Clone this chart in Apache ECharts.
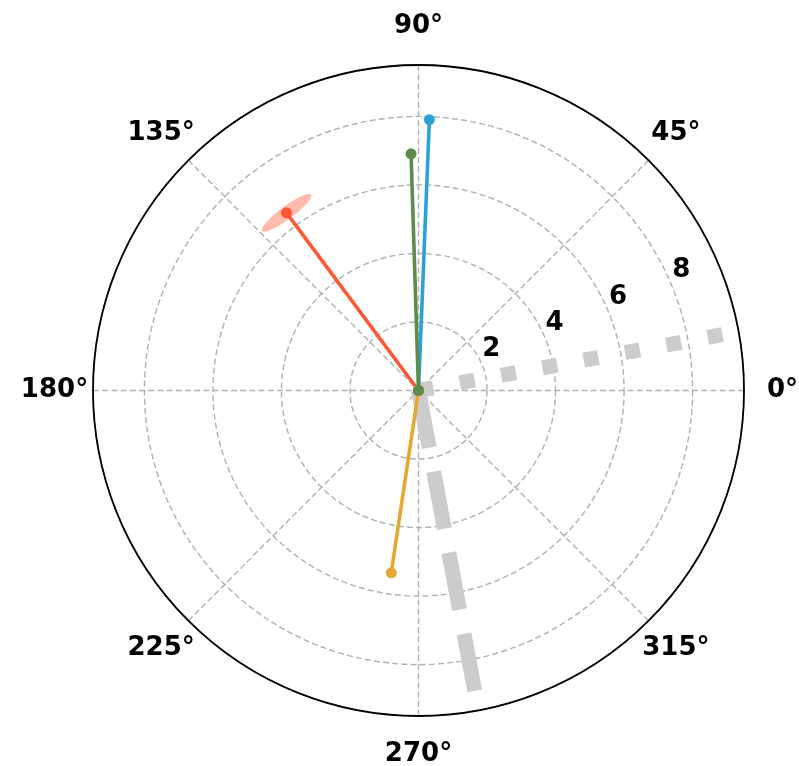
<!DOCTYPE html>
<html><head><meta charset="utf-8">
<script src="https://cdn.jsdelivr.net/npm/echarts@6/dist/echarts.min.js"></script>
<style>html,body{margin:0;padding:0;background:#fff}#c{width:799px;height:766px}</style>
</head><body><div id="c"></div>
<script>
// ---- data ----
const angleTicks = [0, 45, 90, 135, 180, 225, 270, 315];
const angleTickLabels = ['0°', '45°', '90°', '135°', '180°', '225°', '270°', '315°'];
const radialTicks = [2, 4, 6, 8];
const radialTickLabels = ['2', '4', '6', '8'];
const radialLabelAngle = 22.5;
const rMax = 9.5;

const vectorNames = ['blue', 'red', 'orange', 'green'];
const vectorR = [7.91, 6.46, 5.38, 6.91];
const vectorTheta = [87.7, 126.6, 261.5, 91.8];

const refLineTheta = [10.4, 280.6];
const refLineR = [9.5, 9.5];

const errR = 6.46, errTheta = 126.6, errRadialHalf = 0.19, errAngularHalf = 7.9;

// ---- styles ----
const vectorColors = ['#2E9FD8', '#FF5733', '#E5A832', '#5E8B48'];
const FONT = 'DejaVu Sans';
const CX = 418.5, CY = 390.5, RAD = 325.5;
const gridStyle = { color: '#b0b0b0', width: 1.4, type: [6, 3.2] };
const labelStyle = {
  fontFamily: FONT, fontWeight: 'bold', fontSize: 26, color: '#000',
  textBorderWidth: 0, textBorderColor: 'transparent', opacity: 1
};

const series = [];
// gray reference lines
const refStyles = [
  { color: '#cccccc', width: 15, type: [15, 27], cap: 'butt' },
  { color: '#cccccc', width: 15, type: [58, 24.5], cap: 'butt' }
];
refLineTheta.forEach((th, i) => {
  series.push({
    type: 'line', coordinateSystem: 'polar', polarIndex: 0,
    data: [[0, th], [refLineR[i], th]],
    symbol: 'none', lineStyle: refStyles[i], silent: true, z: 2
  });
});
// error ellipse
series.push({
  type: 'custom', coordinateSystem: 'polar', polarIndex: 0, z: 3,
  data: [[errR, errTheta, errRadialHalf, errAngularHalf]],
  renderItem: function (params, api) {
    const r = api.value(0), th = api.value(1), dr = api.value(2), dth = api.value(3);
    const c = api.coord([r, th]);
    const o = api.coord([0, th]);
    const vx = c[0] - o[0], vy = c[1] - o[1];
    const rp = Math.hypot(vx, vy);
    const ux = vx / rp, uy = vy / rp;
    const tx = -uy, ty = ux;
    const a = rp * dth * Math.PI / 180;
    const b = rp * dr / r;
    const pts = [];
    for (let k = 0; k < 90; k++) {
      const t = k / 90 * 2 * Math.PI;
      pts.push([c[0] + a * Math.cos(t) * tx + b * Math.sin(t) * ux,
                c[1] + a * Math.cos(t) * ty + b * Math.sin(t) * uy]);
    }
    return { type: 'polygon', shape: { points: pts }, style: { fill: 'rgba(255,87,51,0.4)' } };
  }
});
// vectors
vectorNames.forEach((n, i) => {
  series.push({
    name: n, type: 'line', coordinateSystem: 'polar', polarIndex: 0, z: 4 + i,
    data: [[0, vectorTheta[i]], [vectorR[i], vectorTheta[i]]],
    symbol: 'circle', symbolSize: 11, showSymbol: true,
    lineStyle: { color: vectorColors[i], width: 3.6 },
    itemStyle: { color: vectorColors[i] }
  });
});
// angle tick labels
series.push({
  type: 'scatter', coordinateSystem: 'polar', polarIndex: 1, z: 10,
  data: angleTicks.map(a => [1, a]), symbolSize: 0, silent: true,
  itemStyle: { color: '#000' },
  label: Object.assign({
    show: true, position: 'inside',
    formatter: p => angleTickLabels[p.dataIndex]
  }, labelStyle)
});
// radial tick labels
series.push({
  type: 'scatter', coordinateSystem: 'polar', polarIndex: 0, z: 10,
  data: radialTicks.map(r => [r, radialLabelAngle]), symbolSize: 0, silent: true,
  itemStyle: { color: '#000' },
  label: Object.assign({
    show: true, position: 'inside', offset: [9.5, -15],
    formatter: p => radialTickLabels[p.dataIndex]
  }, labelStyle)
});

const option = {
  animation: false,
  backgroundColor: '#fff',
  polar: [
    { center: [CX, CY], radius: RAD },
    { center: [CX, CY], radius: 364 }
  ],
  angleAxis: [
    {
      polarIndex: 0, type: 'value', min: 0, max: 360, interval: 45,
      startAngle: 0, clockwise: false, z: 1,
      axisLine: { show: true, lineStyle: { color: '#000', width: 1.8 } },
      axisTick: { show: false }, axisLabel: { show: false },
      splitLine: { show: true, lineStyle: gridStyle }
    },
    { polarIndex: 1, type: 'value', min: 0, max: 360, startAngle: 0, clockwise: false, show: false }
  ],
  radiusAxis: [
    {
      polarIndex: 0, type: 'value', min: 0, max: rMax, interval: 2, z: 0,
      axisLine: { show: false }, axisTick: { show: false }, axisLabel: { show: false },
      splitLine: { show: true, lineStyle: gridStyle }
    },
    { polarIndex: 1, type: 'value', min: 0, max: 1, show: false }
  ],
  series: series
};
const chart = echarts.init(document.getElementById('c'), null, { renderer: 'canvas' });
chart.setOption(option);
</script></body></html>
